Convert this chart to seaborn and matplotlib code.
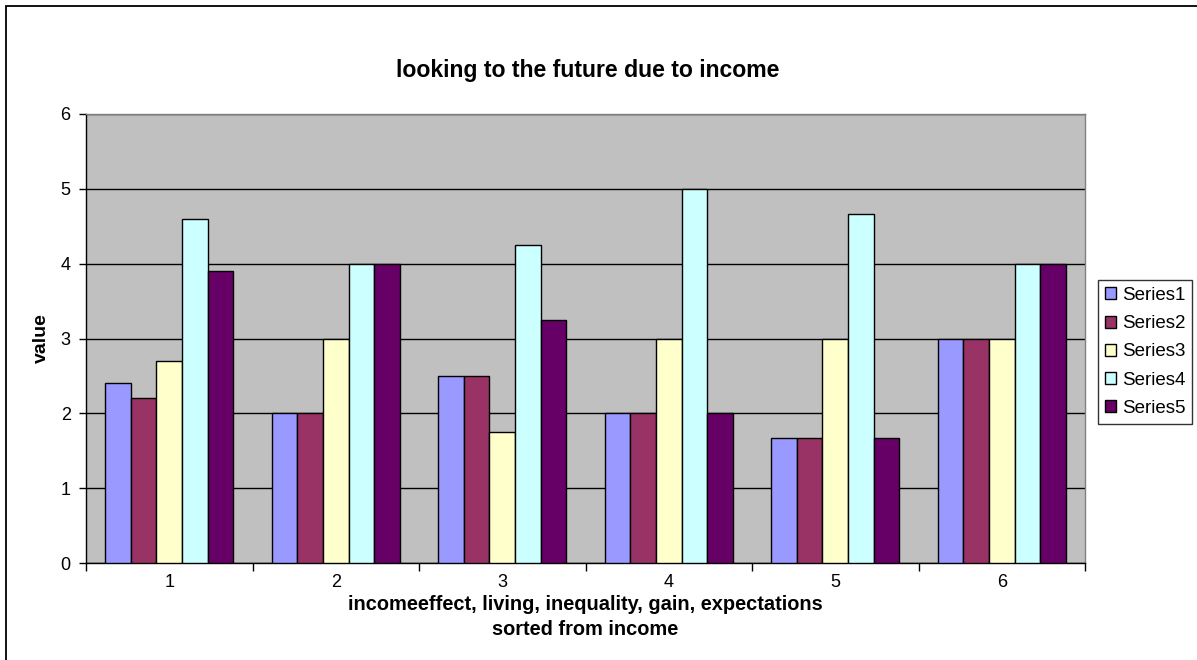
import matplotlib
matplotlib.use("Agg")
import matplotlib.pyplot as plt
import seaborn as sns
import pandas as pd
from matplotlib.patches import Rectangle

groups = ["1", "2", "3", "4", "5", "6"]
series_names = ["Series1", "Series2", "Series3", "Series4", "Series5"]
series1 = [2.4, 2.0, 2.5, 2.0, 1.67, 3.0]
series2 = [2.2, 2.0, 2.5, 2.0, 1.67, 3.0]
series3 = [2.7, 3.0, 1.75, 3.0, 3.0, 3.0]
series4 = [4.6, 4.0, 4.25, 5.0, 4.67, 4.0]
series5 = [3.9, 4.0, 3.25, 2.0, 1.67, 4.0]
colors = ["#9999FF", "#993366", "#FFFFCC", "#CCFFFF", "#660066"]

rows = []
for name, vals in zip(series_names, [series1, series2, series3, series4, series5]):
    for g, v in zip(groups, vals):
        rows.append({"group": g, "series": name, "value": v})
df = pd.DataFrame(rows)

sns.set_style("white")
plt.rcParams['font.family'] = ['Liberation Sans', 'DejaVu Sans']
plt.rcParams['text.color'] = 'black'
plt.rcParams['axes.labelcolor'] = 'black'
plt.rcParams['xtick.color'] = 'black'
plt.rcParams['ytick.color'] = 'black'

fig = plt.figure(figsize=(11.97, 6.6), dpi=100)
ax = fig.add_axes([86/1197, 1-563/660, (1085-86)/1197, (563-114)/660])
ax.set_facecolor("#C0C0C0")

sns.barplot(data=df, x="group", y="value", hue="series", order=groups,
            hue_order=series_names, palette=colors, width=0.77, saturation=1,
            edgecolor="black", linewidth=1.0, ax=ax, legend=False, zorder=3)

ax.set_ylim(0, 6)
ax.set_xlim(-0.5, 5.5)
ax.set_yticks(range(0, 7))
ax.yaxis.grid(True, color="black", linewidth=1.0, zorder=0)
ax.set_axisbelow(True)
ax.tick_params(axis="y", direction="out", length=5, width=1, color="black", labelsize=13, left=True, pad=6)
ax.set_xticks(range(6))
ax.set_xticklabels(groups)
ax.tick_params(axis="x", which="major", length=0, labelsize=13, pad=8)
ax.set_xticks([i + 0.5 for i in range(-1, 6)], minor=True)
ax.tick_params(axis="x", which="minor", direction="out", length=6, width=1, color="black", bottom=True)

for s in ["left", "bottom"]:
    ax.spines[s].set_color("black")
    ax.spines[s].set_linewidth(1.0)
for s in ["top", "right"]:
    ax.spines[s].set_color("#808080")
    ax.spines[s].set_linewidth(1.0)

ax.set_ylabel("value", fontsize=14, fontweight="bold", labelpad=8)
ax.set_xlabel("incomeeffect, living, inequality, gain, expectations\nsorted from income",
              fontsize=14.4, fontweight="bold", labelpad=3, linespacing=1.4)
fig.text(588/1197, 1-70/660, "looking to the future due to income", ha="center", va="center",
         fontsize=16.6, fontweight="bold")

handles = [Rectangle((0, 0), 1, 1, facecolor=c, edgecolor="black", linewidth=1.0) for c in colors]
leg = fig.legend(handles, series_names, loc="center left", bbox_to_anchor=(1098/1197, 1-352/660),
                 frameon=True, fontsize=13.5, handlelength=0.6, handleheight=0.6, handletextpad=0.35,
                 borderpad=0.35, labelspacing=0.6, fancybox=False, borderaxespad=0)
leg.get_frame().set_edgecolor("black")
leg.get_frame().set_linewidth(1.0)

# outer chart border (extends past right/bottom edges as in the reference)
fig.patches.append(Rectangle((6/1197, -0.05), 1.1, 1-6/660 + 0.05, transform=fig.transFigure,
                             fill=False, edgecolor="black", linewidth=1.3))

fig.savefig("out.png", dpi=100, facecolor="white")
